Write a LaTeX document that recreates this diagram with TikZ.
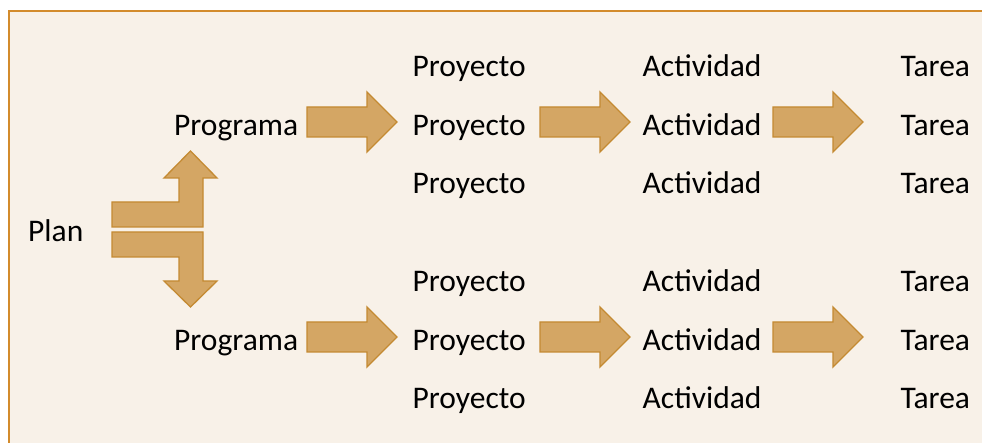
\documentclass[tikz,border=0pt]{standalone}
\usepackage{fontspec}
\setmainfont{Carlito}
\definecolor{bgfill}{HTML}{F8F1E8}
\definecolor{bgline}{HTML}{D38B2C}
\definecolor{arrfill}{HTML}{D4A664}
\definecolor{arrline}{HTML}{C48A32}
\tikzset{
  lbl/.style={anchor=base west, inner sep=0pt, font=\fontsize{31.5}{36}\selectfont, text=black},
  blockarrow/.style={fill=arrfill, draw=arrline, line width=1.3pt, line join=miter},
}
\begin{document}
\begin{tikzpicture}[x=1pt,y=-1pt]
\useasboundingbox (0,0) rectangle (982,443);
\fill[white] (0,0) rectangle (982,443);
\filldraw[fill=bgfill, draw=bgline, line width=1.5pt] (9,11) rectangle (995,460);
% texts
\node[lbl] (plan) at (28,241.5) {Plan};
\node[lbl] (prog1) at (174,136) {Programa};
\node[lbl] (prog2) at (174,350.5) {Programa};
\foreach \i/\y in {1/77,2/136,3/194,4/292,5/350.5,6/408.5}{
  \node[lbl] (proy\i) at (412.5,\y) {Proyecto};
  \node[lbl] (act\i) at (642.5,\y) {Actividad};
  \node[lbl] (tar\i) at (900.5,\y) {Tarea};
}
% right block arrows
\foreach \x in {307,540,773}{
  \foreach \y in {122,337}{
    \draw[blockarrow] (\x,\y-15) -- (\x+60,\y-15) -- (\x+60,\y-30) -- (\x+90,\y)
      -- (\x+60,\y+30) -- (\x+60,\y+15) -- (\x,\y+15) -- cycle;
  }
}
% plan split arrows
\draw[blockarrow] (112,227) -- (203,227) -- (203,178) -- (217,178) -- (190.5,151)
  -- (164,178) -- (179,178) -- (179,202) -- (112,202) -- cycle;
\draw[blockarrow] (112,232) -- (203,232) -- (203,281) -- (217,281) -- (190.5,307)
  -- (164,281) -- (179,281) -- (179,257) -- (112,257) -- cycle;
\end{tikzpicture}
\end{document}
